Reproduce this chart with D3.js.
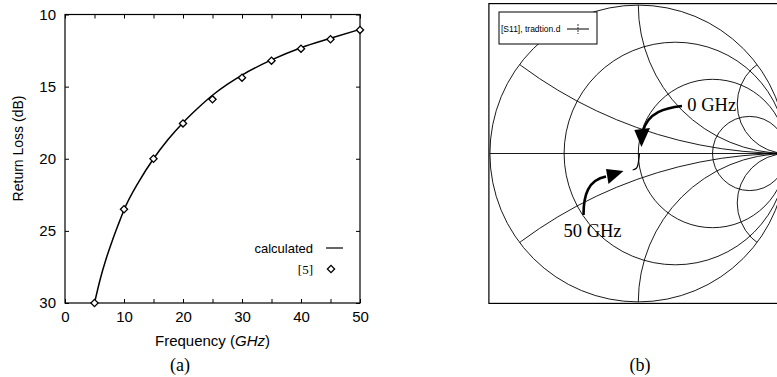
<!DOCTYPE html>
<html>
<head>
<meta charset="utf-8">
<script src="https://cdn.jsdelivr.net/npm/d3@7"></script>
<style>
  body { margin: 0; background: #fff; }
  svg { display: block; }
</style>
</head>
<body>
<div id="chart"></div>
<script>
// (a) return loss against frequency
const freqCalc = [5, 6, 7, 8, 9, 10, 12.5, 15, 17.5, 20, 22.5, 25, 27.5, 30, 35, 40, 45, 50];
const lossCalc = [30, 28.3, 26.9, 25.7, 24.6, 23.55, 21.6, 20.0, 18.65, 17.5, 16.5, 15.6, 14.85, 14.2, 13.15, 12.3, 11.65, 11.03];
const freqRef = [5, 10, 15, 20, 25, 30, 35, 40, 45, 50];
const lossRef = [30, 23.5, 20.0, 17.55, 15.88, 14.38, 13.2, 12.37, 11.72, 11.07];
const xTicks = [0, 5, 10, 15, 20, 25, 30, 35, 40, 45, 50];
const yTicks = [10, 15, 20, 25, 30];

// (b) smith chart grid and the S11 trace (reflection coefficient)
const resistances = [0, 1 / 3, 1, 3];
const reactances = [1 / 3, 1, 3];
const s11Re = [0.008, 0.005, 0.001, -0.005, -0.015, -0.029, -0.038];
const s11Im = [0.0, -0.03, -0.057, -0.084, -0.101, -0.108, -0.111];

const W = 777, H = 377;
const sans = "'Liberation Sans', Arial, Helvetica, sans-serif";
const serif = "'Liberation Serif', 'Times New Roman', serif";

const svg = d3.select('#chart').append('svg')
  .attr('width', W)
  .attr('height', H);

// ---------- panel (a) ----------
const plot = { left: 65, right: 360, top: 14.5, bottom: 303 };
const x = d3.scaleLinear().domain([0, 50]).range([plot.left, plot.right]);
const y = d3.scaleLinear().domain([10, 30]).range([plot.top, plot.bottom]);

const pa = svg.append('g');

function styleAxis(g) {
  g.select('.domain').remove();
  g.selectAll('.tick line').attr('stroke', '#000').attr('stroke-width', 1);
  g.selectAll('text')
    .attr('fill', '#000')
    .attr('font-family', sans)
    .attr('font-size', 15);
}

pa.append('g')
  .attr('transform', `translate(0,${plot.bottom})`)
  .call(d3.axisBottom(x).tickValues(xTicks).tickSize(-4).tickPadding(8)
    .tickFormat(d => d % 10 === 0 ? d : ''))
  .call(styleAxis);
pa.append('g')
  .attr('transform', `translate(0,${plot.top})`)
  .call(d3.axisTop(x).tickValues(xTicks).tickSize(-4).tickFormat(''))
  .call(styleAxis);
pa.append('g')
  .attr('transform', `translate(${plot.left},0)`)
  .call(d3.axisLeft(y).tickValues(yTicks).tickSize(-4).tickPadding(9))
  .call(styleAxis);
pa.append('g')
  .attr('transform', `translate(${plot.right},0)`)
  .call(d3.axisRight(y).tickValues(yTicks).tickSize(-4).tickFormat(''))
  .call(styleAxis);

pa.append('rect')
  .attr('x', plot.left).attr('y', plot.top)
  .attr('width', plot.right - plot.left).attr('height', plot.bottom - plot.top)
  .attr('fill', 'none').attr('stroke', '#000').attr('stroke-width', 1.2);

const line = d3.line()
  .x(d => x(d[0]))
  .y(d => y(d[1]))
  .curve(d3.curveMonotoneX);

pa.append('path')
  .datum(d3.zip(freqCalc, lossCalc))
  .attr('d', line)
  .attr('fill', 'none')
  .attr('stroke', '#000')
  .attr('stroke-width', 1.5);

const diamond = d3.symbol(d3.symbolSquare, 26);
pa.selectAll('.ref')
  .data(d3.zip(freqRef, lossRef))
  .enter().append('path')
  .attr('class', 'ref')
  .attr('d', diamond)
  .attr('transform', d => `translate(${x(d[0])},${y(d[1])}) rotate(45)`)
  .attr('fill', '#fff')
  .attr('stroke', '#000')
  .attr('stroke-width', 1.3);

// legend
pa.append('text')
  .attr('x', 313).attr('y', 252.5)
  .attr('text-anchor', 'end')
  .attr('font-family', sans).attr('font-size', 13)
  .text('calculated');
pa.append('line')
  .attr('x1', 326).attr('x2', 343).attr('y1', 248).attr('y2', 248)
  .attr('stroke', '#000').attr('stroke-width', 1.2);
pa.append('text')
  .attr('x', 313).attr('y', 273.5)
  .attr('text-anchor', 'end')
  .attr('font-family', serif).attr('font-size', 13)
  .text('[5]');
pa.append('path')
  .attr('d', diamond)
  .attr('transform', 'translate(331,269) rotate(45)')
  .attr('fill', '#fff').attr('stroke', '#000').attr('stroke-width', 1.3);

// axis titles
pa.append('text')
  .attr('transform', 'translate(22.5,148.5) rotate(-90)')
  .attr('text-anchor', 'middle')
  .attr('font-family', sans).attr('font-size', 14)
  .text('Return Loss (dB)');
const xt = pa.append('text')
  .attr('x', (plot.left + plot.right) / 2).attr('y', 346)
  .attr('text-anchor', 'middle')
  .attr('font-family', sans).attr('font-size', 15);
xt.append('tspan').text('Frequency (');
xt.append('tspan').attr('font-style', 'italic').text('GHz');
xt.append('tspan').text(')');

svg.append('text')
  .attr('x', 180).attr('y', 371)
  .attr('text-anchor', 'middle')
  .attr('font-family', serif).attr('font-size', 18)
  .text('(a)');

// ---------- panel (b) ----------
const cx = 638.3, cy = 153.5, R = 148.4;
const sx = d3.scaleLinear().domain([-1, 1]).range([cx - R, cx + R]);
const sy = d3.scaleLinear().domain([-1, 1]).range([cy + R, cy - R]);
const len = v => sx(v) - sx(0);

const pb = svg.append('g');

pb.append('rect')
  .attr('x', cx - R - 1).attr('y', cy - R - 1.5)
  .attr('width', 2 * R + 2).attr('height', 2 * R + 3)
  .attr('fill', 'none').attr('stroke', '#000').attr('stroke-width', 1.2);

pb.append('clipPath').attr('id', 'unit')
  .append('circle')
  .attr('cx', sx(0)).attr('cy', sy(0)).attr('r', len(1));

const grid = pb.append('g')
  .attr('fill', 'none')
  .attr('stroke', '#000')
  .attr('stroke-width', 0.9);

grid.selectAll('.rc')
  .data(resistances)
  .enter().append('circle')
  .attr('class', 'rc')
  .attr('cx', r => sx(r / (1 + r)))
  .attr('cy', sy(0))
  .attr('r', r => len(1 / (1 + r)));

grid.append('g').attr('clip-path', 'url(#unit)')
  .selectAll('.xc')
  .data(reactances.flatMap(v => [v, -v]))
  .enter().append('circle')
  .attr('class', 'xc')
  .attr('cx', sx(1))
  .attr('cy', v => sy(1 / v))
  .attr('r', v => len(1 / Math.abs(v)));

grid.append('line')
  .attr('x1', sx(-1)).attr('x2', sx(1))
  .attr('y1', sy(0)).attr('y2', sy(0));

// S11 trace
pb.append('path')
  .datum(d3.zip(s11Re, s11Im))
  .attr('d', d3.line().x(d => sx(d[0])).y(d => sy(d[1])).curve(d3.curveCatmullRom))
  .attr('fill', 'none')
  .attr('stroke', '#000')
  .attr('stroke-width', 1.2);

// legend box
pb.append('rect')
  .attr('x', 499).attr('y', 12).attr('width', 98).attr('height', 32)
  .attr('fill', '#fff').attr('stroke', '#000').attr('stroke-width', 1);
pb.append('text')
  .attr('x', 501).attr('y', 32)
  .attr('font-family', sans).attr('font-size', 8.5)
  .text('[S11], tradtion.d');
pb.append('line')
  .attr('x1', 567).attr('x2', 589).attr('y1', 29).attr('y2', 29)
  .attr('stroke', '#000').attr('stroke-width', 1);
pb.append('line')
  .attr('x1', 578).attr('x2', 578).attr('y1', 24).attr('y2', 34)
  .attr('stroke', '#000').attr('stroke-width', 0.8)
  .attr('stroke-dasharray', '2,1');

// annotations
const ann = pb.append('g').attr('transform', `translate(${cx},${cy})`);
ann.append('path')
  .attr('d', 'M43.7,-47.5 C27,-45.5 10,-41.5 4.7,-22.5')
  .attr('fill', 'none').attr('stroke', '#000').attr('stroke-width', 2.6);
ann.append('path')
  .attr('d', 'M-4,-23.5 L11.7,-25.5 L3.2,-6.5 Z')
  .attr('fill', '#000');
ann.append('path')
  .attr('d', 'M-54.8,61.5 C-54.8,41.5 -50.3,26.5 -32.3,23')
  .attr('fill', 'none').attr('stroke', '#000').attr('stroke-width', 2.6);
ann.append('path')
  .attr('d', 'M-32.3,15.5 L-29.8,30.5 L-14.8,17.5 Z')
  .attr('fill', '#000');
ann.append('text')
  .attr('x', 49).attr('y', -42.5)
  .attr('font-family', serif).attr('font-size', 18.5)
  .text('0 GHz');
ann.append('text')
  .attr('x', -74.8).attr('y', 83)
  .attr('font-family', serif).attr('font-size', 18.5)
  .text('50 GHz');

svg.append('text')
  .attr('x', 640).attr('y', 371)
  .attr('text-anchor', 'middle')
  .attr('font-family', serif).attr('font-size', 18)
  .text('(b)');
</script>
</body>
</html>
